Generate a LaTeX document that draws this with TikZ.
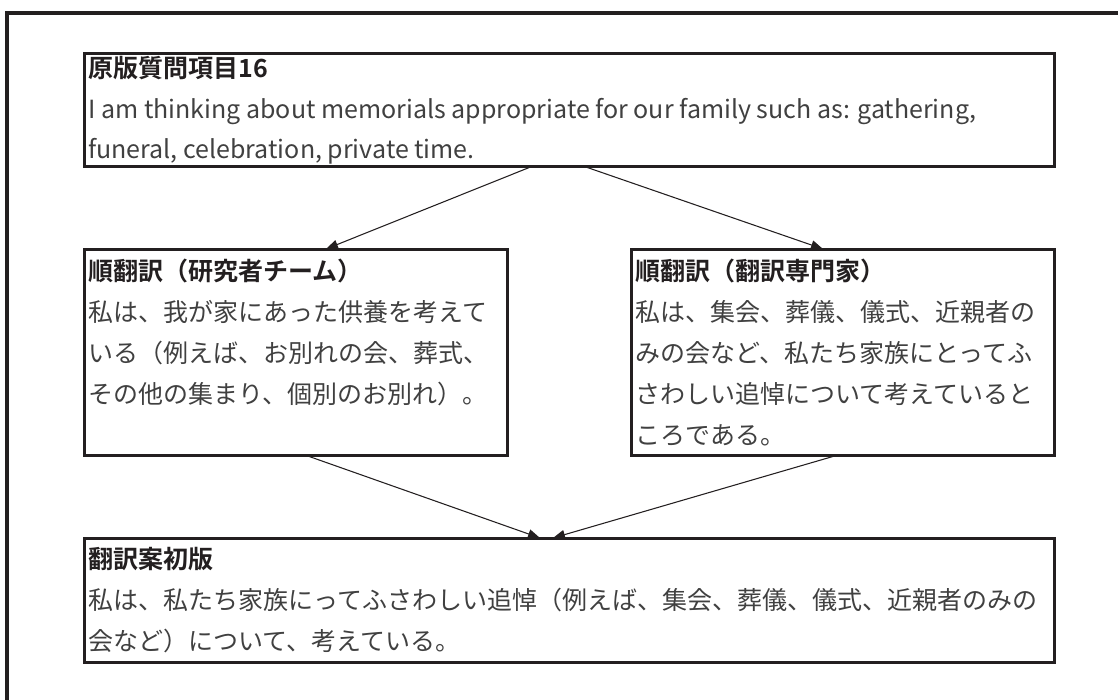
\documentclass[tikz,border=0pt]{standalone}
\usepackage{fontspec}
\setmainfont{Noto Sans CJK JP}[BoldFont={Noto Sans CJK JP Bold}]
\usetikzlibrary{arrows.meta,calc}
\definecolor{ink}{HTML}{231F20}
\definecolor{bodytext}{HTML}{404040}
\begin{document}
\begin{tikzpicture}[x=0.75pt,y=-0.75pt,
  frame/.style={draw=ink,line width=2.4pt},
  box/.style={draw=ink,line width=2.25pt,rectangle,inner sep=0pt,outer sep=0pt,anchor=north west},
  ttl/.style={anchor=base west,inner sep=0pt,font=\fontsize{18.75}{22}\selectfont\bfseries,text=ink},
  txt/.style={anchor=base west,inner sep=0pt,font=\fontsize{18.75}{22}\selectfont,text=bodytext},
  arr/.style={draw=ink,line width=0.8pt,-{Triangle[length=9pt,width=7pt]}}]
\clip (0,0) rectangle (1118,700);
\draw[frame] (7,13) rectangle (1135,715);
% boxes
\node[box,minimum width=727.5pt,minimum height=84.75pt] (top) at (84,53) {};
\node[box,minimum width=317.25pt,minimum height=154.5pt] (left) at (84,249) {};
\node[box,minimum width=317.25pt,minimum height=154.5pt] (right) at (631,249) {};
\node[box,minimum width=727.5pt,minimum height=93pt] (bot) at (84,538) {};
% top texts
\node[ttl] (ta) at ($(top.north west)+(4,24)$) {原版質問項目16};
\node[txt] (tb) at ($(top.north west)+(4,65)$) {I am thinking about memorials appropriate for our family such as: gathering,};
\node[txt] (tc) at ($(top.north west)+(4,105)$) {funeral, celebration, private time.};
% left texts
\node[ttl] (la) at ($(left.north west)+(4,31)$) {順翻訳（研究者チーム）};
\node[txt] (lb) at ($(left.north west)+(4,72)$) {私は、我が家にあった供養を考えて};
\node[txt] (lc) at ($(left.north west)+(4,113)$) {いる（例えば、お別れの会、葬式、};
\node[txt] (ld) at ($(left.north west)+(4,154)$) {その他の集まり、個別のお別れ）。};
% right texts
\node[ttl] (ra) at ($(right.north west)+(4,31)$) {順翻訳（翻訳専門家）};
\node[txt] (rb) at ($(right.north west)+(4,72)$) {私は、集会、葬儀、儀式、近親者の};
\node[txt] (rc) at ($(right.north west)+(4,113)$) {みの会など、私たち家族にとってふ};
\node[txt] (rd) at ($(right.north west)+(4,154)$) {さわしい追悼について考えていると};
\node[txt] (re) at ($(right.north west)+(4,195)$) {ころである。};
% bottom texts
\node[ttl] (ba) at ($(bot.north west)+(4,30)$) {翻訳案初版};
\node[txt] (bb) at ($(bot.north west)+(4,71)$) {私は、私たち家族にってふさわしい追悼（例えば、集会、葬儀、儀式、近親者のみの};
\node[txt] (bc) at ($(bot.north west)+(4,112)$) {会など）について、考えている。};
% arrows
\draw[arr] ($(top.south west)+(449,0)$) -- ($(left.north west)+(242,0)$);
\draw[arr] ($(top.south west)+(499,0)$) -- ($(right.north west)+(192,0)$);
\draw[arr] ($(left.south west)+(221,0)$) -- ($(bot.north west)+(456,0)$);
\draw[arr] ($(right.south west)+(207,0)$) -- ($(bot.north west)+(469,0)$);
\end{tikzpicture}
\end{document}
